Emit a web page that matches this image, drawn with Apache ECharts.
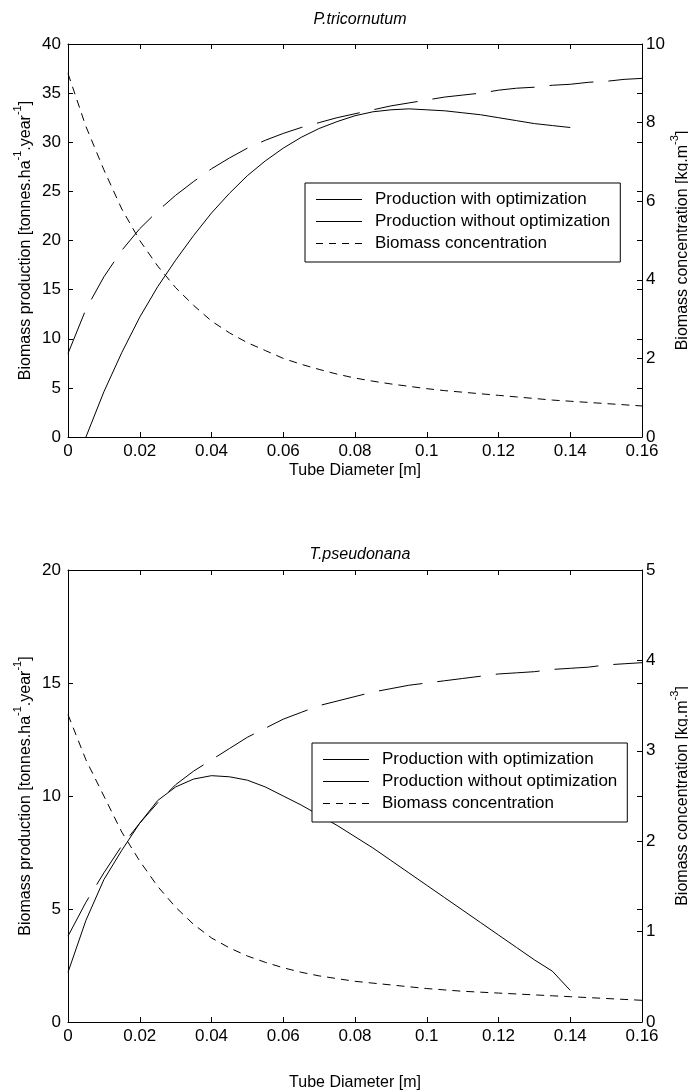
<!DOCTYPE html>
<html>
<head>
<meta charset="utf-8">
<script src="https://cdn.jsdelivr.net/npm/echarts@6/dist/echarts.min.js"></script>
<style>
html,body{margin:0;padding:0;background:#fff;overflow:hidden;}
#chart{width:688px;height:1091px;}
</style>
</head>
<body>
<div id="chart"></div>
<script>
// Tube diameter grid (m)
const diameters = [0,0.005,0.01,0.015,0.02,0.025,0.03,0.035,0.04,0.045,0.05,0.055,0.06,0.065,0.07,0.075,0.08,0.085,0.09,0.095,0.1,0.105,0.11,0.115,0.12,0.125,0.13,0.135,0.14,0.145,0.15,0.155,0.16];

// P. tricornutum
const ptWithOpt = [8.5,13.0,16.3,19.0,21.2,23.0,24.6,26.0,27.3,28.4,29.4,30.2,30.9,31.5,32.0,32.5,32.9,33.3,33.7,34.0,34.3,34.6,34.8,35.0,35.3,35.5,35.6,35.8,35.9,36.1,36.2,36.4,36.5];
const ptWithoutOpt = [null,0,4.6,8.6,12.2,15.3,18.0,20.5,22.8,24.8,26.6,28.1,29.4,30.5,31.4,32.1,32.7,33.1,33.3,33.4,33.3,33.2,33.0,32.8,32.5,32.2,31.9,31.7,31.5,null,null,null,null];
const ptConc = [9.25,7.9,6.8,5.8,5.0,4.35,3.8,3.35,2.95,2.65,2.4,2.2,2.0,1.85,1.72,1.6,1.5,1.42,1.35,1.29,1.23,1.18,1.14,1.1,1.06,1.02,0.98,0.94,0.91,0.88,0.85,0.82,0.79];

// T. pseudonana
const tpWithOpt = [3.8,5.3,6.6,7.8,8.8,9.7,10.5,11.1,11.6,12.1,12.6,13.0,13.4,13.7,14.0,14.2,14.4,14.6,14.75,14.9,15.0,15.1,15.2,15.3,15.4,15.45,15.5,15.6,15.65,15.7,15.8,15.85,15.9];
const tpWithoutOpt = [2.2,4.5,6.3,7.6,8.8,9.8,10.4,10.75,10.9,10.85,10.7,10.4,10.0,9.6,9.15,8.7,8.2,7.7,7.15,6.6,6.05,5.5,4.95,4.4,3.85,3.3,2.75,2.25,1.4,null,null,null,null];
const tpConc = [3.4,2.9,2.5,2.1,1.78,1.5,1.27,1.08,0.93,0.82,0.73,0.66,0.6,0.55,0.51,0.48,0.45,0.43,0.41,0.39,0.37,0.355,0.34,0.33,0.32,0.31,0.3,0.29,0.28,0.27,0.26,0.25,0.24];

const names = ['Production with optimization','Production without optimization','Biomass concentration'];
const titles = ['P.tricornutum','T.pseudonana'];

function pairs(vals){ return diameters.map((d,i)=>[d, vals[i]]); }

const FONT = 'Liberation Sans, Arial, sans-serif';
const black = '#000';

function xAxisPair(gridIndex, nameGap){
  return [
    {type:'value', gridIndex, min:0, max:0.16, interval:0.02, position:'bottom',
     axisLine:{show:true, onZero:false, lineStyle:{color:black,width:1}},
     axisTick:{show:true, inside:true, length:5, lineStyle:{color:black}},
     axisLabel:{color:black, fontSize:17, fontFamily:FONT, margin:6,
       formatter:v=>String(+v.toFixed(2))},
     splitLine:{show:false},
     name:'Tube Diameter [m]', nameLocation:'middle', nameGap, nameMoveOverlap:false,
     nameTextStyle:{color:black, fontSize:16, fontFamily:FONT}},
    {type:'value', gridIndex, min:0, max:0.16, interval:0.02, position:'top',
     axisLine:{show:true, onZero:false, lineStyle:{color:black,width:1}},
     axisTick:{show:true, inside:true, length:5, lineStyle:{color:black}},
     axisLabel:{show:false}, splitLine:{show:false}}
  ];
}

const richName = {
  n:{fontSize:16, fontFamily:FONT, color:black, lineHeight:22, verticalAlign:'bottom'},
  s:{fontSize:11, fontFamily:FONT, color:black, lineHeight:22, verticalAlign:'top'}
};

function yAxes(gridIndex, leftMax, rightMax, rightInt){
  return [
    {type:'value', gridIndex, min:0, max:leftMax, interval:5, position:'left',
     axisLine:{show:true, onZero:false, lineStyle:{color:black,width:1}},
     axisTick:{show:true, inside:true, length:5, lineStyle:{color:black}},
     axisLabel:{color:black, fontSize:17, fontFamily:FONT, margin:7},
     splitLine:{show:false},
     name:'{n|Biomass production [tonnes.ha}{s|-1}{n|.year}{s|-1}{n|]}',
     nameLocation:'middle', nameGap:34, nameRotate:90, nameMoveOverlap:false,
     nameTextStyle:{color:black, fontFamily:FONT, rich:richName}},
    {type:'value', gridIndex, min:0, max:rightMax, interval:rightInt, position:'right',
     axisLine:{show:true, onZero:false, lineStyle:{color:black,width:1}},
     axisTick:{show:true, inside:true, length:5, lineStyle:{color:black}},
     axisLabel:{color:black, fontSize:17, fontFamily:FONT, margin:4},
     splitLine:{show:false},
     name:'{n|Biomass concentration [kg.m}{s|-3}{n|]}',
     nameLocation:'middle', nameGap:27, nameRotate:90, nameMoveOverlap:false,
     nameTextStyle:{color:black, fontFamily:FONT, rich:richName}},
    {type:'value', gridIndex, min:0, max:leftMax, interval:5, position:'right',
     axisLine:{show:false, onZero:false},
     axisTick:{show:true, inside:true, length:5, lineStyle:{color:black}},
     axisLabel:{show:false}, splitLine:{show:false}}
  ];
}

const solidIcon = 'path://M0,0H46V1H0Z';
const dashIcon = 'path://M0,0H7V1H0Z M13,0H20V1H13Z M26,0H33V1H26Z M39,0H46V1H39Z';

function legend(left, top){
  return {
    left, top, orient:'vertical',
    backgroundColor:'#fff', borderColor:black, borderWidth:1, borderRadius:0,
    padding:[8,10,10,11],
    itemWidth:46, itemHeight:1, itemGap:5,
    selectedMode:false,
    itemStyle:{color:black, borderWidth:0},
    textStyle:{color:black, fontSize:17, fontFamily:FONT, padding:[0,0,0,8]},
    data:[
      {name:names[0], icon:solidIcon, itemStyle:{color:black, borderWidth:0}},
      {name:names[1], icon:solidIcon, itemStyle:{color:black, borderWidth:0}},
      {name:names[2], icon:dashIcon, itemStyle:{color:black, borderWidth:0}}
    ]
  };
}

const longDash = [44,15];
const shortDash = [8,6];

function lineSeries(name, xIdx, yIdx, vals, dash){
  return {
    type:'line', name, xAxisIndex:xIdx, yAxisIndex:yIdx,
    data:pairs(vals), showSymbol:false, symbol:'none', smooth:false,
    connectNulls:false, silent:true, animation:false,
    lineStyle:{color:black, width:1, type:dash},
    itemStyle:{color:black}
  };
}

const option = {
  backgroundColor:'#fff',
  animation:false,
  title:[
    {text:titles[0], left:355, top:7, textAlign:'center',
     textStyle:{fontStyle:'italic', fontWeight:'normal', fontSize:16, fontFamily:FONT, color:black}},
    {text:titles[1], left:355, top:542, textAlign:'center',
     textStyle:{fontStyle:'italic', fontWeight:'normal', fontSize:16, fontFamily:FONT, color:black}}
  ],
  grid:[
    {left:68, right:46, top:44, height:393, containLabel:false, outerBoundsMode:'none'},
    {left:68, right:46, top:570, height:452, containLabel:false, outerBoundsMode:'none'}
  ],
  xAxis:[...xAxisPair(0, 26), ...xAxisPair(1, 53)],
  yAxis:[...yAxes(0, 40, 10, 2), ...yAxes(1, 20, 5, 1)],
  legend:[legend(305,183), legend(312,743)],
  series:[
    lineSeries(names[0], 0, 0, ptWithOpt, longDash),
    lineSeries(names[1], 0, 0, ptWithoutOpt, 'solid'),
    lineSeries(names[2], 0, 1, ptConc, shortDash),
    lineSeries(names[0], 2, 3, tpWithOpt, longDash),
    lineSeries(names[1], 2, 3, tpWithoutOpt, 'solid'),
    lineSeries(names[2], 2, 4, tpConc, shortDash)
  ]
};

const chart = echarts.init(document.getElementById('chart'), null, {renderer:'canvas'});
chart.setOption(option);
</script>
</body>
</html>
